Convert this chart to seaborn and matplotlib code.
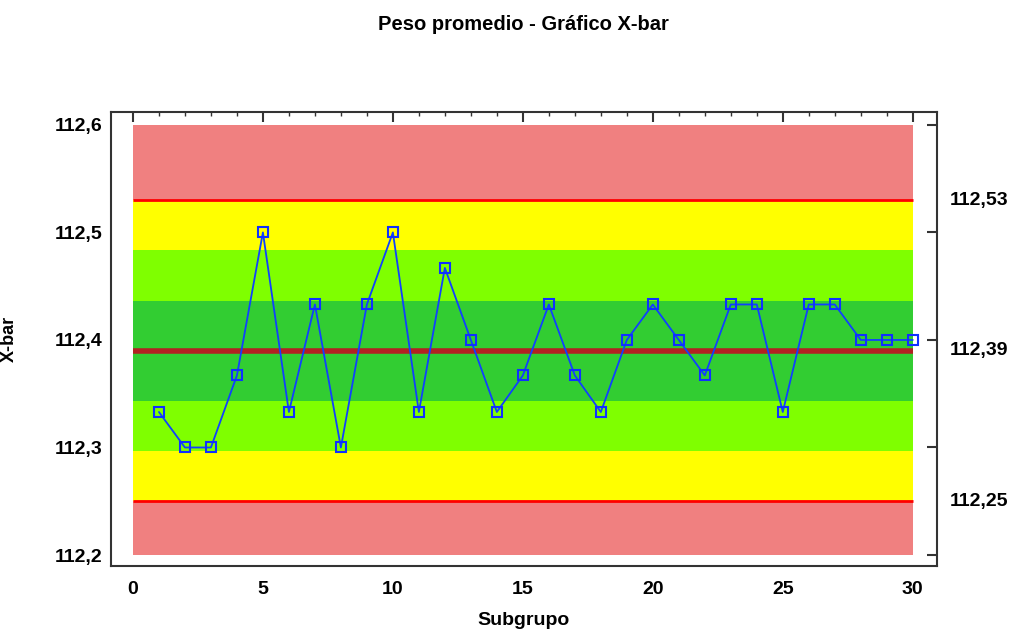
import matplotlib
matplotlib.use("Agg")
import matplotlib.pyplot as plt
import matplotlib.transforms as mtransforms
from matplotlib.ticker import FuncFormatter, MultipleLocator
import seaborn as sns
import pandas as pd
import numpy as np

# Datos del gráfico X-bar
subgrupos = list(range(1, 31))
pesos = [112.333, 112.300, 112.300, 112.367, 112.500, 112.333, 112.433, 112.300,
         112.433, 112.500, 112.333, 112.467, 112.400, 112.333, 112.367, 112.433,
         112.367, 112.333, 112.400, 112.433, 112.400, 112.367, 112.433, 112.433,
         112.333, 112.433, 112.433, 112.400, 112.400, 112.400]
LCS = 112.53
LC = 112.39
LCI = 112.25
y_ticks = [112.2, 112.3, 112.4, 112.5, 112.6]
x_ticks = [0, 5, 10, 15, 20, 25, 30]

sigma = (LCS - LC) / 3
rojo = "#F08080"
amarillo = "#FFFF00"
verde_claro = "#7FFF00"
verde = "#32CD32"

sns.set_style("white")
plt.rcParams["font.family"] = ["Liberation Sans", "DejaVu Sans"]
plt.rcParams["font.weight"] = "bold"
plt.rcParams["text.color"] = "black"
plt.rcParams["axes.labelcolor"] = "black"
plt.rcParams["xtick.labelcolor"] = "black"
plt.rcParams["ytick.labelcolor"] = "black"

df = pd.DataFrame({"Subgrupo": subgrupos, "X-bar": pesos})

fig = plt.figure(figsize=(10.17, 6.4), dpi=100)
ax = fig.add_axes([0.109, 0.116, 0.812, 0.709])

# Zonas de color
x_zona = [0, 30]
zonas = [
    (y_ticks[0], LCI, rojo),
    (LCI, LC - 2 * sigma, amarillo),
    (LC - 2 * sigma, LC - sigma, verde_claro),
    (LC - sigma, LC + sigma, verde),
    (LC + sigma, LC + 2 * sigma, verde_claro),
    (LC + 2 * sigma, LCS, amarillo),
    (LCS, y_ticks[-1], rojo),
]
for lo, hi, c in zonas:
    ax.fill_between(x_zona, lo, hi, color=c, lw=0, zorder=1)

ax.plot(x_zona, [LCS, LCS], color="red", lw=2, zorder=2, solid_capstyle="butt")
ax.plot(x_zona, [LCI, LCI], color="red", lw=2, zorder=2, solid_capstyle="butt")
ax.plot(x_zona, [LC, LC], color="#B22222", lw=4, zorder=2, solid_capstyle="butt")

sns.lineplot(data=df, x="Subgrupo", y="X-bar", ax=ax, color="#1040FF", lw=1.3,
             marker="s", markersize=6.5, markerfacecolor="none",
             markeredgecolor="#1030FF", markeredgewidth=1.5, zorder=3)

ax.set_xlim(-0.85, 30.92)
ax.set_ylim(112.19, 112.612)
ax.set_xticks(x_ticks)
ax.set_yticks(y_ticks)
ax.xaxis.set_minor_locator(MultipleLocator(1))
ax.yaxis.set_major_formatter(FuncFormatter(lambda v, p: f"{v:.1f}".replace(".", ",")))
ax.tick_params(axis="both", which="major", direction="in", length=7, width=1.5,
               labelsize=14, top=True, right=True, color="#333333")
ax.tick_params(axis="x", which="minor", direction="in", length=3, width=1,
               top=True, color="#333333")
ax.tick_params(axis="x", pad=11)
ax.tick_params(axis="y", pad=6)
for lab in ax.get_xticklabels() + ax.get_yticklabels():
    lab.set_fontweight("bold")
for s in ax.spines.values():
    s.set_linewidth(1.5)
    s.set_color("#333333")

ax.set_xlabel("Subgrupo", fontsize=14, fontweight="bold", labelpad=10)
ax.set_ylabel("")
fig.text(0.0095, 0.47, "X-bar", rotation=90, ha="center", va="center",
         fontsize=13, fontweight="bold")

trans = mtransforms.blended_transform_factory(ax.transAxes, ax.transData)
for v in [LCS, LC, LCI]:
    ax.text(1.016, v, f"{v:.2f}".replace(".", ","), transform=trans,
            ha="left", va="center", fontsize=14, fontweight="bold")

fig.text(0.515, 0.961, "Peso promedio - Gráfico X-bar", ha="center", va="center",
         fontsize=14.5, fontweight="bold")

fig.savefig("out.png", dpi=100)
